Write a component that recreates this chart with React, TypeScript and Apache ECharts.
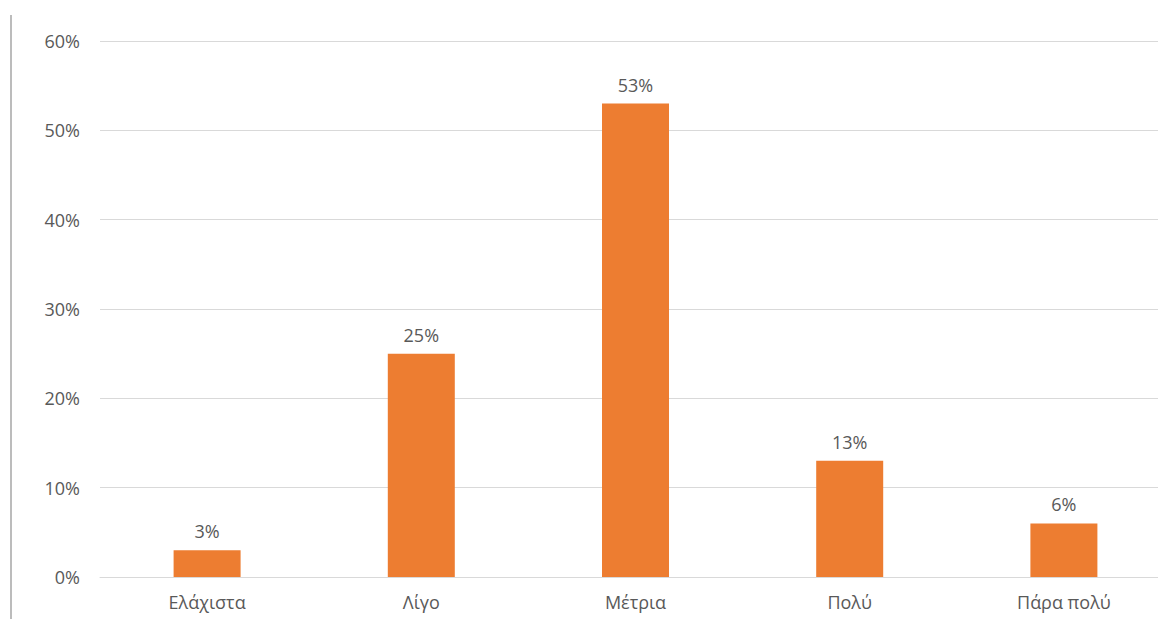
import React, { useEffect, useRef } from "react";
import * as echarts from "echarts";

const categories = ["Ελάχιστα", "Λίγο", "Μέτρια", "Πολύ", "Πάρα πολύ"];
const values = [3, 25, 53, 13, 6];
const yTicks = [0, 10, 20, 30, 40, 50, 60];

export default function App() {
  const ref = useRef<HTMLDivElement>(null);
  useEffect(() => {
    if (!ref.current) return;
    const chart = echarts.init(ref.current, undefined, { renderer: "svg" });
    const font = "'Open Sans', 'Noto Sans', sans-serif";
    chart.setOption({
      animation: false,
      backgroundColor: "#ffffff",
      grid: { left: 100, right: 29, top: 41, bottom: 42 },
      xAxis: {
        type: "category",
        data: categories,
        axisLine: { lineStyle: { color: "#d9d9d9", width: 1 } },
        axisTick: { show: false },
        axisLabel: { color: "#595959", fontSize: 18, fontFamily: font, margin: 16 },
      },
      yAxis: {
        type: "value",
        min: yTicks[0],
        max: yTicks[yTicks.length - 1],
        interval: 10,
        axisLine: { show: false },
        axisTick: { show: false },
        splitLine: { lineStyle: { color: "#d9d9d9", width: 1 } },
        axisLabel: {
          color: "#595959",
          fontSize: 18,
          fontFamily: font,
          margin: 20,
          formatter: (v: number) => v + "%",
        },
      },
      graphic: [
        {
          type: "line",
          shape: { x1: 11, y1: 15, x2: 11, y2: 619 },
          style: { stroke: "#a6a6a6", lineWidth: 1.5 },
        },
      ],
      series: [
        {
          type: "bar",
          data: values,
          barWidth: 67,
          itemStyle: { color: "#ED7D31" },
          label: {
            show: true,
            position: "top",
            distance: 10,
            color: "#595959",
            fontSize: 18,
            fontFamily: font,
            formatter: (p: any) => p.value + "%",
          },
        },
      ],
    });
    return () => chart.dispose();
  }, []);
  return (
    <div style={{ position: "fixed", left: 0, top: 0, width: 1158, height: 619, overflow: "hidden", background: "#fff" }}>
      <div ref={ref} style={{ width: 1200, height: 619 }} />
    </div>
  );
}
